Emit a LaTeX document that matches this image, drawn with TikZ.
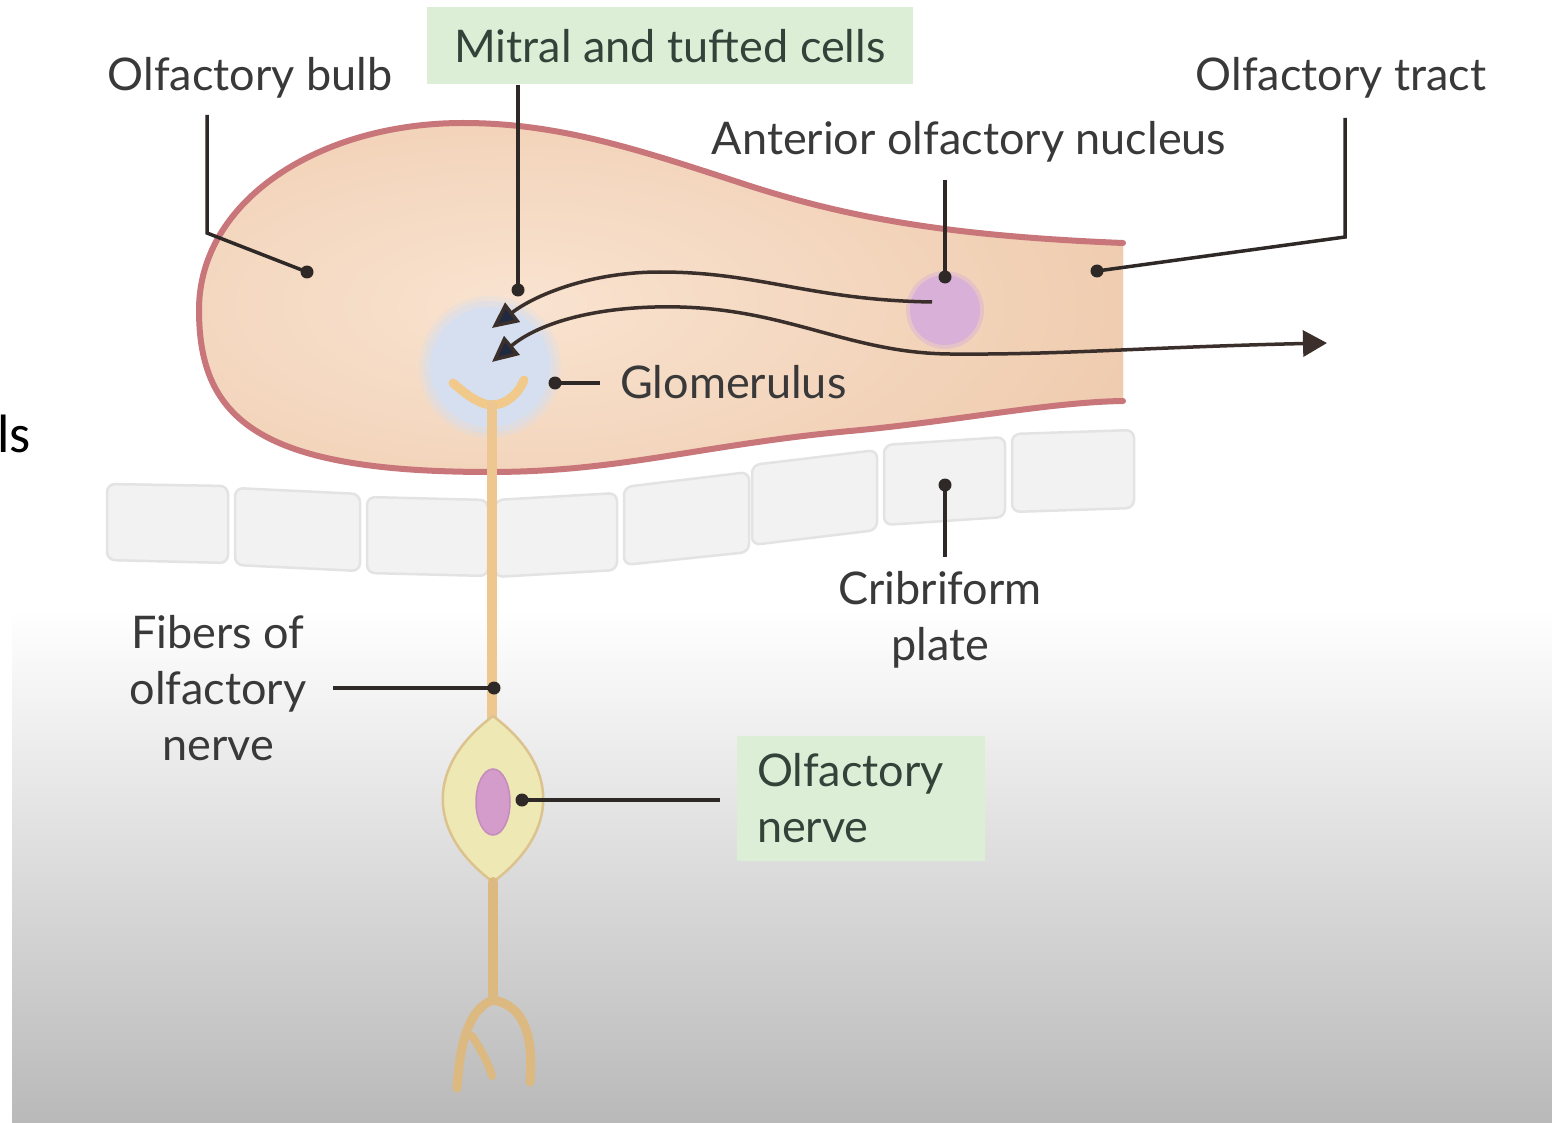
\documentclass[tikz,border=0pt]{standalone}
\usepackage{fontspec}
\setmainfont{Lato}
\newfontfamily\slidefont{Carlito}
\usetikzlibrary{arrows.meta}

\definecolor{labcol}{HTML}{393939}
\definecolor{boxtext}{HTML}{34433A}
\definecolor{boxfill}{HTML}{DCEFD6}
\definecolor{leadcol}{HTML}{2E2926}
\definecolor{arrowcol}{HTML}{3A2F2A}
\definecolor{tipcol}{HTML}{1F2940}
\definecolor{bulbedge}{HTML}{C9767B}
\definecolor{bulbmid}{HTML}{F9E3D0}
\definecolor{bulbouter}{HTML}{EDC7A8}
\definecolor{glomcol}{HTML}{D6DFF0}
\definecolor{aoncol}{HTML}{D8B0D8}
\definecolor{fibercol}{HTML}{EDC690}
\definecolor{fiberlow}{HTML}{DDB982}
\definecolor{dendcol}{HTML}{F1C98A}
\definecolor{cellfill}{HTML}{EEE8B4}
\definecolor{celledge}{HTML}{DCC38E}
\definecolor{nuccol}{HTML}{D49CCB}
\definecolor{nucedge}{HTML}{C68BBD}
\definecolor{platefill}{HTML}{F2F2F2}
\definecolor{plateedge}{HTML}{E3E3E3}
\definecolor{floorgrey}{HTML}{B9B9B9}

\newcommand{\labfont}{\fontsize{45}{56}\selectfont}

\tikzset{
  lab/.style={font=\labfont, text=labcol, inner sep=0pt, align=center},
  greenbox/.style={fill=boxfill, font=\labfont, text=boxtext, inner sep=0pt},
  lead/.style={draw=leadcol, line width=3.5},
  flow/.style={draw=arrowcol, line width=3.5},
  plateblock/.style={fill=platefill, draw=plateedge, line width=2.5, rounded corners=8},
  fiber/.style={draw=fibercol, line width=10, line cap=round},
}

\begin{document}
\begin{tikzpicture}[x=1pt, y=-1pt]
\useasboundingbox (0,0) rectangle (1552,1123);

% page background with grey floor
\fill[white] (0,0) rectangle (1552,1123);
\shade[top color=white, bottom color=floorgrey] (12,610) rectangle (1552,1123);

% fragment of a neighbouring caption
\node[font=\slidefont\fontsize{54}{60}\selectfont, text=black, anchor=base west, inner sep=0pt] (edgeText) at (-3,452) {ls};

% cribriform plate
\foreach \xa/\xb/\ta/\tb/\ba/\bb in {
  107/228/484/486/560/563,
  235/360/488/494/565/571,
  367/488/497/500/573/576,
  495/617/500/493/577/570,
  624/749/487/472/565/552,
  752/877/465/450/545/530,
  884/1005/445/437/525/517,
  1012/1134/434/430/512/508}{
  \path[plateblock] (\xa,\ta) -- (\xb,\tb) -- (\xb,\bb) -- (\xa,\ba) -- cycle;
}

% olfactory bulb and tract
\def\bulbpath{(1123,243) .. controls (950,236) and (850,218) .. (750,186)
  .. controls (640,150) and (560,123) .. (463,123)
  .. controls (320,123) and (199,200) .. (199,310)
  .. controls (199,420) and (260,472) .. (490,472)
  .. controls (620,472) and (700,445) .. (850,431)
  .. controls (950,422) and (1050,402) .. (1123,401)}
\begin{scope}
  \clip \bulbpath -- cycle;
  \fill[bulbouter] (150,100) rectangle (1130,480);
  \shade[inner color=bulbmid, outer color=bulbouter] (520,305) ellipse [x radius=760, y radius=330];
\end{scope}

% glomerulus with a soft rim
\coordinate (glomC) at (490,367);
\fill[glomcol, opacity=0.3] (glomC) circle (71);
\fill[glomcol, opacity=0.5] (glomC) circle (66);
\fill[glomcol] (glomC) circle (60);

% anterior olfactory nucleus
\coordinate (aonC) at (945,310);
\fill[aoncol, opacity=0.45] (aonC) circle (39);
\fill[aoncol] (aonC) circle (35);

\draw[bulbedge, line width=6, line cap=round] \bulbpath;

% receptor neuron: dendrite tuft in the glomerulus and axon
\draw[draw=dendcol, line width=9, line cap=round] (453,383) .. controls (470,398) and (482,405) .. (492,405) .. controls (505,405) and (518,395) .. (524,380);
\draw[fiber] (492,405) -- (492,718);

% cell body with nucleus
\node[inner sep=0pt, minimum size=0pt] (cellTop) at (493,716) {};
\node[inner sep=0pt, minimum size=0pt] (cellBot) at (493,882) {};
\path[fill=cellfill, draw=celledge, line width=2.5]
  (cellTop.center) .. controls (560,766) and (560,832) .. (cellBot.center)
  .. controls (426,832) and (426,766) .. (cellTop.center) -- cycle;
\path[fill=nuccol, draw=nucedge, line width=1.5] (493,802) ellipse [x radius=17, y radius=33];

% lower process with its branches
\draw[draw=fiberlow, line width=10, line cap=round] (cellBot.center) -- (493,1000);
\draw[draw=fiberlow, line width=9, line cap=round] (493,1000) .. controls (470,1008) and (460,1040) .. (457,1088);
\draw[draw=fiberlow, line width=8, line cap=round] (472,1036) .. controls (481,1050) and (488,1062) .. (492,1076);
\draw[draw=fiberlow, line width=9, line cap=round] (493,1000) .. controls (522,1005) and (534,1032) .. (530,1082);

% pathways
\coordinate (glomIn1) at (492,328);
\coordinate (glomIn2) at (492,362);
\coordinate (aonOut) at (932,302);
\coordinate (tractOut) at (1327,343);
\draw[flow, -{Triangle[length=26, width=24, fill=tipcol]}]
  (aonOut) .. controls (810,300) and (760,272) .. (660,272)
  .. controls (590,272) and (535,295) .. (glomIn1);
\draw[flow, {Triangle[length=26, width=24, fill=tipcol]}-{Triangle[length=24, width=26]}]
  (glomIn2) .. controls (540,322) and (600,305) .. (680,307)
  .. controls (790,310) and (850,353) .. (950,354)
  .. controls (1060,355) and (1150,347) .. (tractOut);

% labels
\node[lab] (bulbL) at (250,78) {Olfactory bulb};
\node[greenbox, minimum width=486, minimum height=77] (mitralBox) at (670,46) {Mitral and tufted cells};
\node[lab] (tractL) at (1341,78) {Olfactory tract};
\node[lab] (aonL) at (969,142) {Anterior olfactory nucleus};
\node[lab, anchor=west] (glomL) at (620,382) {Glomerulus};
\node[lab] (cribL) at (940,620) {Cribriform\\plate};
\node[lab] (fibL) at (218,688) {Fibers of\\olfactory\\nerve};
\node[greenbox, minimum width=248, minimum height=125, text width=208, align=left] (nerveBox) at (861,798) {Olfactory\\nerve};

% pointer dots
\coordinate (bulbDot) at (307,272);
\coordinate (mitralDot) at (518,290);
\coordinate (tractDot) at (1097,271);
\coordinate (aonDot) at (945,277);
\coordinate (glomDot) at (555,383);
\coordinate (cribDot) at (945,485);
\coordinate (fibDot) at (494,688);
\coordinate (nerveDot) at (522,800);

% leader ends near the labels
\coordinate (bulbLead) at (207,115);
\coordinate (tractLead) at (1345,118);
\coordinate (aonLead) at (945,180);
\coordinate (glomLead) at (600,383);
\coordinate (cribLead) at (945,557);
\coordinate (fibLead) at (333,688);
\coordinate (nerveLead) at (720,800);

\draw[lead] (bulbLead) -- (207,233) -- (bulbDot);
\draw[lead] (mitralBox.south -| mitralDot) -- (mitralDot);
\draw[lead] (tractLead) -- (1345,237) -- (tractDot);
\draw[lead] (aonLead) -- (aonDot);
\draw[lead] (glomDot) -- (glomLead);
\draw[lead] (cribDot) -- (cribLead);
\draw[lead] (fibLead) -- (fibDot);
\draw[lead] (nerveDot) -- (nerveLead);

\foreach \d in {bulbDot,mitralDot,tractDot,aonDot,glomDot,cribDot,fibDot,nerveDot}
  \fill[leadcol] (\d) circle (6.5);
\end{tikzpicture}
\end{document}
